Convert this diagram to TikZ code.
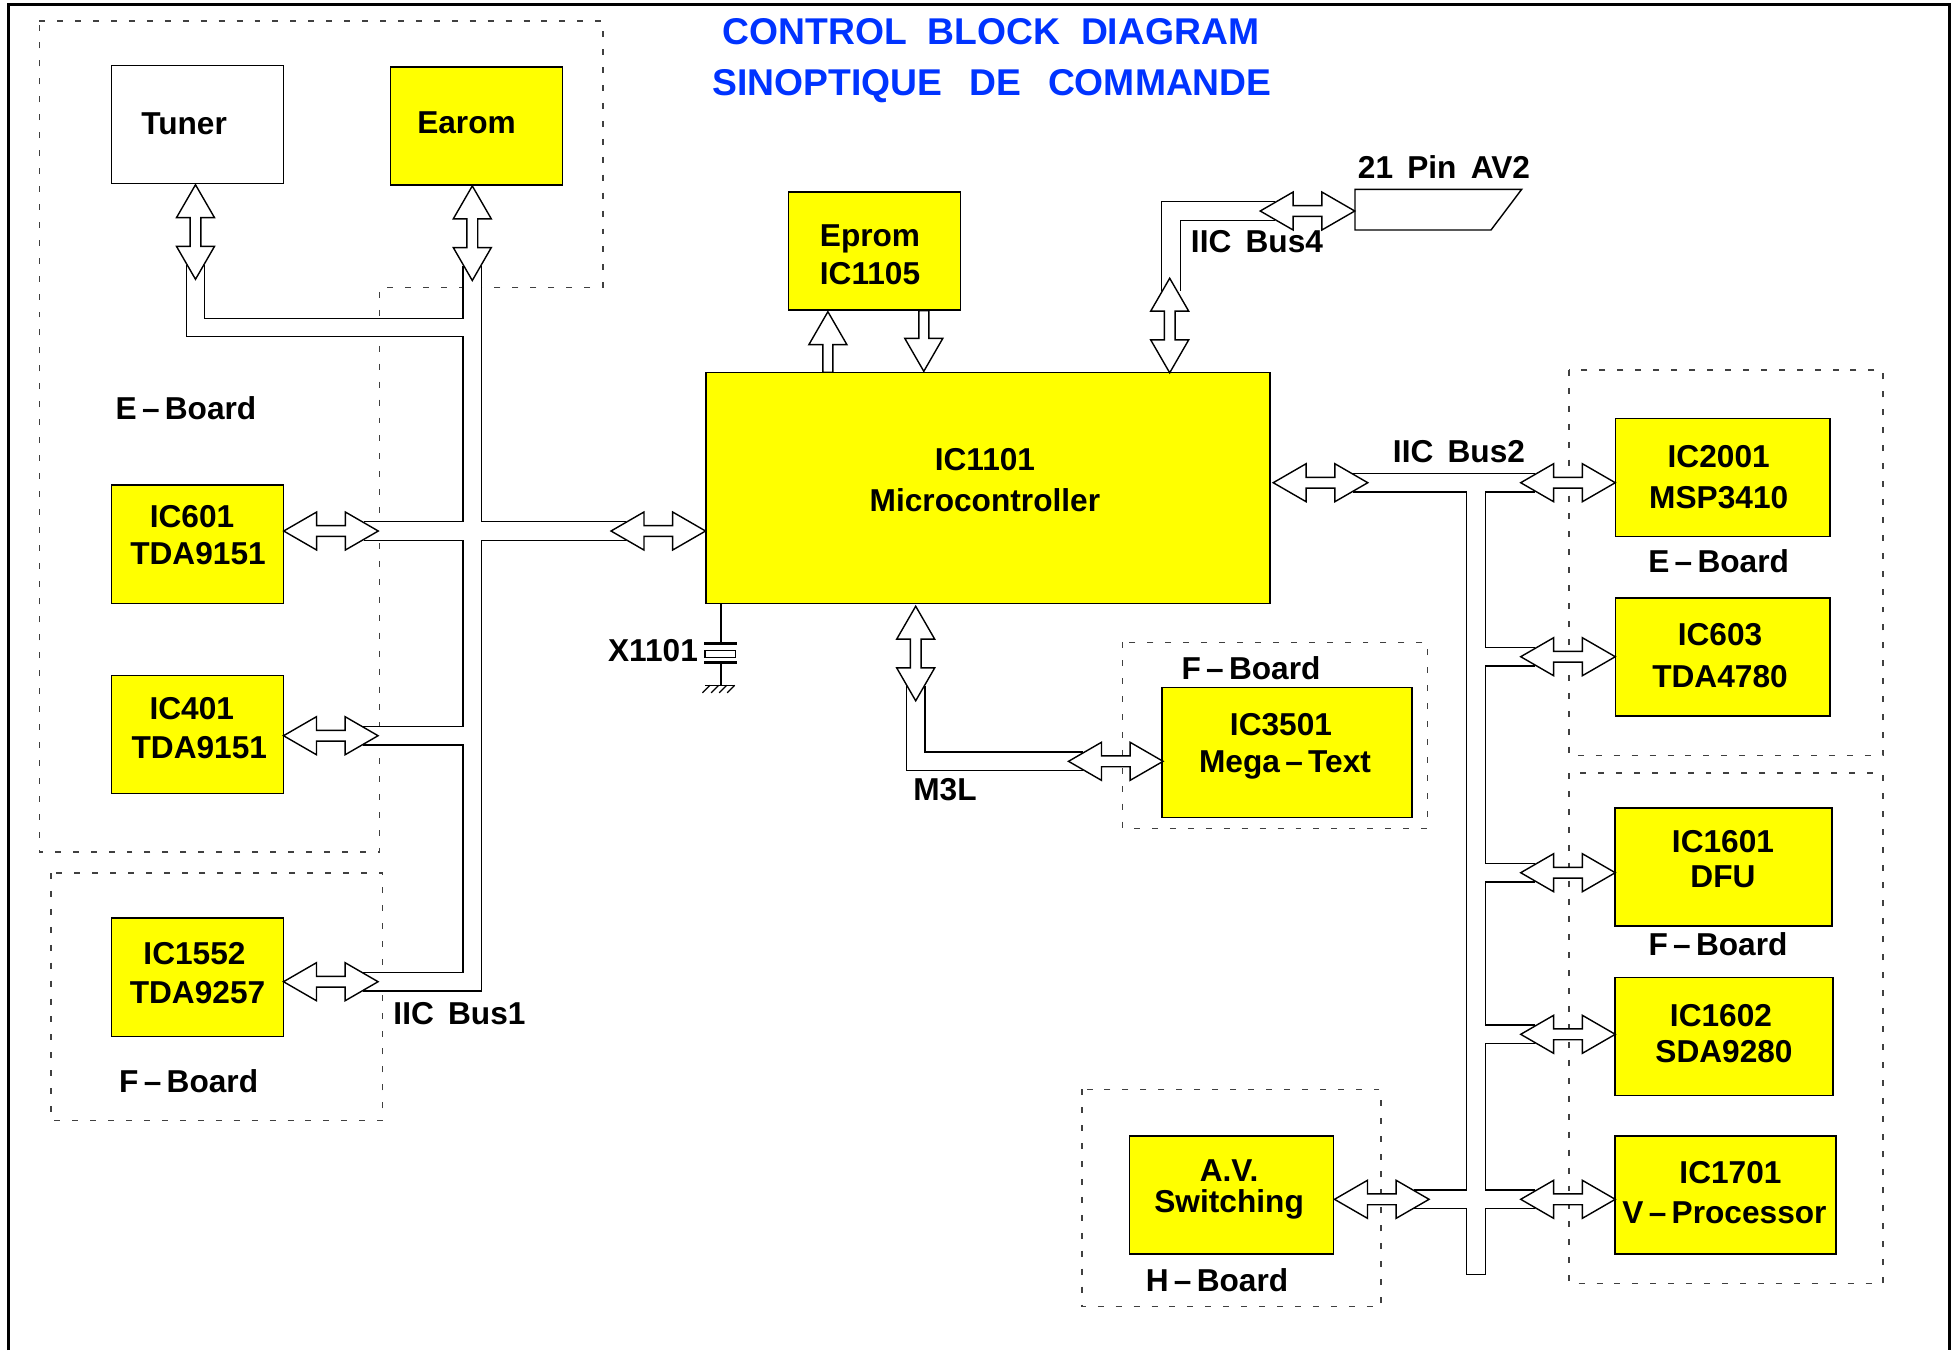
\documentclass[tikz,border=0pt]{standalone}
\usepackage{fontspec}
\setmainfont{Liberation Sans}
\usetikzlibrary{shapes.arrows, backgrounds, calc}
\definecolor{boxyellow}{RGB}{255,255,0}
\definecolor{titleblue}{RGB}{0,51,255}
\newlength{\pxu}
\setlength{\pxu}{0.2835pt}
% text of a box: shift right, shift up, line pitch, lines
\newcommand{\boxtext}[4]{\makebox[0pt]{\hspace*{2\dimexpr #1\pxu\relax}\raisebox{\dimexpr #2\pxu-3.26pt\relax}[0pt][0pt]{\fontsize{9pt}{#3\pxu}\selectfont\begin{tabular}{@{}c@{}}#4\end{tabular}}}}

\begin{document}
\begin{tikzpicture}[
    x=0.01cm, y=-0.01cm,
    icbox/.style={rectangle, draw, fill=boxyellow, line width=0.4pt, inner sep=0pt, minimum width=1.72cm, minimum height=1.18cm, font=\bfseries},
    txt/.style={inner sep=0pt, font=\bfseries\fontsize{9pt}{11pt}\selectfont},
    heading/.style={inner sep=0pt, text=titleblue, font=\bfseries\fontsize{10.6pt}{13pt}\selectfont},
    twoway/.style={double arrow, draw, fill=white, line width=0.4pt, inner xsep=0pt, inner ysep=0.047cm, double arrow head extend=0.136cm, double arrow tip angle=60, double arrow head indent=0pt, minimum height=0.945cm},
    oneway/.style={single arrow, draw, fill=white, line width=0.4pt, inner xsep=0pt, inner ysep=0.043cm, single arrow head extend=0.14cm, single arrow tip angle=60, single arrow head indent=0pt, minimum height=0.605cm},
    bus/.style={double, double distance=0.174cm, line width=0.35pt, line join=miter},
    board/.style={dash pattern=on 1.7pt off 3.4pt, line width=0.35pt, black!75},
    frame/.style={line width=0.85pt}
]
    \useasboundingbox (0,0) rectangle (1959,1350);

    % Title
    \node[heading] (title1) at (991,32) {CONTROL\ \ BLOCK\ \ DIAGRAM};
    \node[heading] (title2) at (992,86.5) {SINOPTIQUE\ \ \kern1.8pt DE\ \ \kern1.8pt COMMANDE};

    % Left column
    \node[icbox, fill=white] (tuner) at (197.5,124.5) {\boxtext{-13.5}{1}{38}{Tuner}};
    \node[icbox] (earom) at (476.5,126) {\boxtext{-10}{4}{38}{Earom}};
    \node[icbox] (ic601) at (197.5,544.2) {\boxtext{0.5}{9.5}{37.5}{\hspace*{-12\pxu}IC601\\TDA9151}};
    \node[icbox] (ic401) at (197.5,734.4) {\boxtext{1.8}{6.7}{38.5}{\hspace*{-15\pxu}IC401\\TDA9151}};
    \node[icbox] (ic1552) at (197.5,977.2) {\boxtext{0}{4.7}{39}{\hspace*{-6\pxu}IC1552\\TDA9257}};

    % Middle
    \node[icbox] (eprom) at (874.5,251) {\boxtext{-4.5}{-3}{38.5}{Eprom\\IC1105}};
    \node[icbox, minimum width=5.637cm, minimum height=2.308cm] (micro) at (987.9,488) {\boxtext{-3}{9}{41.5}{IC1101\\Microcontroller}};
    \node[icbox, minimum width=2.495cm, minimum height=1.3cm] (ic3501) at (1287,752.3) {\boxtext{-2}{9}{37}{\hspace*{-8\pxu}IC3501\\Mega\,–\,Text}};
    \node[icbox, minimum width=2.042cm] (avswitch) at (1231.6,1195) {\boxtext{-2.5}{8}{30}{A.V.\\Switching}};

    % Right column
    \node[icbox, minimum width=2.147cm] (ic2001) at (1722.7,477.6) {\boxtext{-4}{1.6}{42}{IC2001\\MSP3410}};
    \node[icbox, minimum width=2.147cm] (ic603) at (1722.7,657) {\boxtext{-2.7}{2.3}{42.5}{IC603\\TDA4780}};
    \node[icbox, minimum width=2.167cm] (ic1601) at (1723.6,867) {\boxtext{-0.6}{7.5}{35}{IC1601\\DFU}};
    \node[icbox, minimum width=2.18cm] (ic1602) at (1724,1036.5) {\boxtext{0}{2.7}{36}{\hspace*{-6\pxu}IC1602\\SDA9280}};
    \node[icbox, minimum width=2.21cm] (ic1701) at (1725.5,1195) {\boxtext{-1}{3}{40.5}{\hspace*{12\pxu}IC1701\\V\,–\,Processor}};

    % Free labels
    \node[txt] (eboard1) at (186,408) {E\,–\,Board};
    \node[txt] (fboard1) at (188.7,1081) {F\,–\,Board};
    \node[txt] (bus1txt) at (459.5,1013.5) {IIC\hspace{.45em}Bus1};
    \node[txt] (bus2txt) at (1459,451.5) {IIC\hspace{.45em}Bus2};
    \node[txt] (bus4txt) at (1257,242) {IIC\hspace{.45em}Bus4};
    \node[txt] (av2txt) at (1444,166.7) {21\hspace{.45em}Pin\hspace{.45em}AV2};
    \node[txt] (eboard2) at (1718.6,561) {E\,–\,Board};
    \node[txt] (fboard2) at (1251,668.4) {F\,–\,Board};
    \node[txt] (fboard3) at (1718,944.5) {F\,–\,Board};
    \node[txt] (hboard) at (1217,1280) {H\,–\,Board};
    \node[txt] (m3ltxt) at (945,790) {M3L};
    \node[txt] (xtaltxt) at (653,650.7) {X1101};

    % Double arrows, horizontal
    \node[twoway] (a601) at (331,531) {};
    \node[twoway] (amain) at (658.3,531) {};
    \node[twoway] (a401) at (330.8,735.7) {};
    \node[twoway] (a1552) at (330.8,981.7) {};
    \node[twoway] (abus2) at (1320.5,482.7) {};
    \node[twoway] (a2001) at (1568,482.7) {};
    \node[twoway] (a603) at (1568,656.7) {};
    \node[twoway] (a1601) at (1568,872.7) {};
    \node[twoway] (a1602) at (1568,1034.3) {};
    \node[twoway] (a1701) at (1568,1199.3) {};
    \node[twoway] (aav) at (1381.8,1199.3) {};
    \node[twoway] (a3501) at (1115.8,761.3) {};
    \node[twoway] (abus4) at (1307.5,211) {};

    % Double arrows, vertical
    \node[twoway, rotate=90] (atuner) at (195.5,232) {};
    \node[twoway, rotate=90] (aearom) at (472.3,233.2) {};
    \node[twoway, rotate=90] (avert4) at (1169.7,325.5) {};
    \node[twoway, rotate=90] (am3l) at (915.7,653.5) {};

    % Eprom arrows
    \node[oneway, rotate=90, anchor=tip] (aepromup) at (827.9,310.3) {};
    \node[oneway, rotate=-90, anchor=tip] (aepromdn) at (923.8,372.7) {};

    % Bus ends, under the arrow heads
    \coordinate (b601) at ($(a601.east)+(-16,0)$);
    \coordinate (bmain) at ($(amain.west)+(16,0)$);
    \coordinate (b401) at ($(a401.east)+(-16,0)$);
    \coordinate (b1552) at ($(a1552.east)+(-16,0)$);
    \coordinate (btuner) at ($(atuner.west)+(0,-16)$);
    \coordinate (bearom) at ($(aearom.west)+(0,-16)$);
    \coordinate (bleft) at ($(abus2.east)+(-16,0)$);
    \coordinate (b2001) at ($(a2001.west)+(16,0)$);
    \coordinate (b603) at ($(a603.west)+(16,0)$);
    \coordinate (b1601) at ($(a1601.west)+(16,0)$);
    \coordinate (b1602) at ($(a1602.west)+(16,0)$);
    \coordinate (b1701) at ($(a1701.west)+(16,0)$);
    \coordinate (bav) at ($(aav.east)+(-16,0)$);
    \coordinate (b3501) at ($(a3501.west)+(16,0)$);
    \coordinate (bm3l) at ($(am3l.west)+(0,-16)$);
    \coordinate (b4h) at ($(abus4.west)+(16,0)$);
    \coordinate (b4v) at ($(avert4.east)+(1.3,14)$);
    \coordinate (trunk1) at (472.3,327.5);
    \coordinate (trunk2) at (1476,482.7);
    \coordinate (trunk2end) at (1476,1274.7);

    \begin{scope}[on background layer]
        % Boards
        \draw[board] (39.3,21) -- (603,21) -- (603,287.3) -- (379.5,287.3) -- (379.5,852) -- (39.3,852) -- cycle;
        \draw[board] (51,873) rectangle (382.7,1120.7);
        \draw[board] (1122.8,642.3) rectangle (1427.3,828.3);
        \draw[board] (1569,370) rectangle (1883,755.7);
        \draw[board] (1569,773) rectangle (1883,1283.5);
        \draw[board] (1082,1089.3) rectangle (1381,1306.7);

        % IIC Bus1
        \draw[bus] (bearom) |- (b1552)
            (btuner) |- (trunk1)
            (b601) -- (bmain)
            (b401) -- (b401 -| trunk1);

        % IIC Bus2
        \draw[bus] (bleft) -- (b2001)
            (trunk2) -- (trunk2end)
            (b603) -- (b603 -| trunk2)
            (b1601) -- (b1601 -| trunk2)
            (b1602) -- (b1602 -| trunk2)
            (bav) -- (b1701);
        \draw[line width=0.35pt] ($(trunk2end)+(-9.3,0)$) -- ($(trunk2end)+(9.3,0)$);

        % IIC Bus4 and M3L
        \draw[bus] (b4v) |- (b4h);
        \draw[bus] (bm3l) |- (b3501);
    \end{scope}

    % 21 pin connector
    \coordinate (scart) at (1355,189.3);
    \draw[line width=0.4pt] (scart) -- (1521.7,189.3) -- (1491,230) -- (1355,230) -- cycle;

    % Crystal
    \coordinate (xtaltop) at (micro.south west -| 721,0);
    \draw[line width=0.4pt] (xtaltop) -- (721,643.7);
    \draw[line width=1pt] (704,643.7) -- (736.6,643.7) (704,662.3) -- (736.6,662.3);
    \draw[line width=0.4pt] (704.9,650.7) rectangle (735.5,657.3);
    \draw[line width=0.4pt] (721,662.3) -- (721,685.3);
    \draw[line width=0.4pt] (705,685.3) -- (735,685.3);
    \foreach \xpos in {710,718.6,726.7,734.7}
        \draw[line width=0.35pt] (\xpos,685.3) -- ++(-7.5,7.5);

    % Outer frame
    \draw[frame] (8.7,1350) |- (1949.3,4.7) -- (1949.3,1350);
\end{tikzpicture}
\end{document}
